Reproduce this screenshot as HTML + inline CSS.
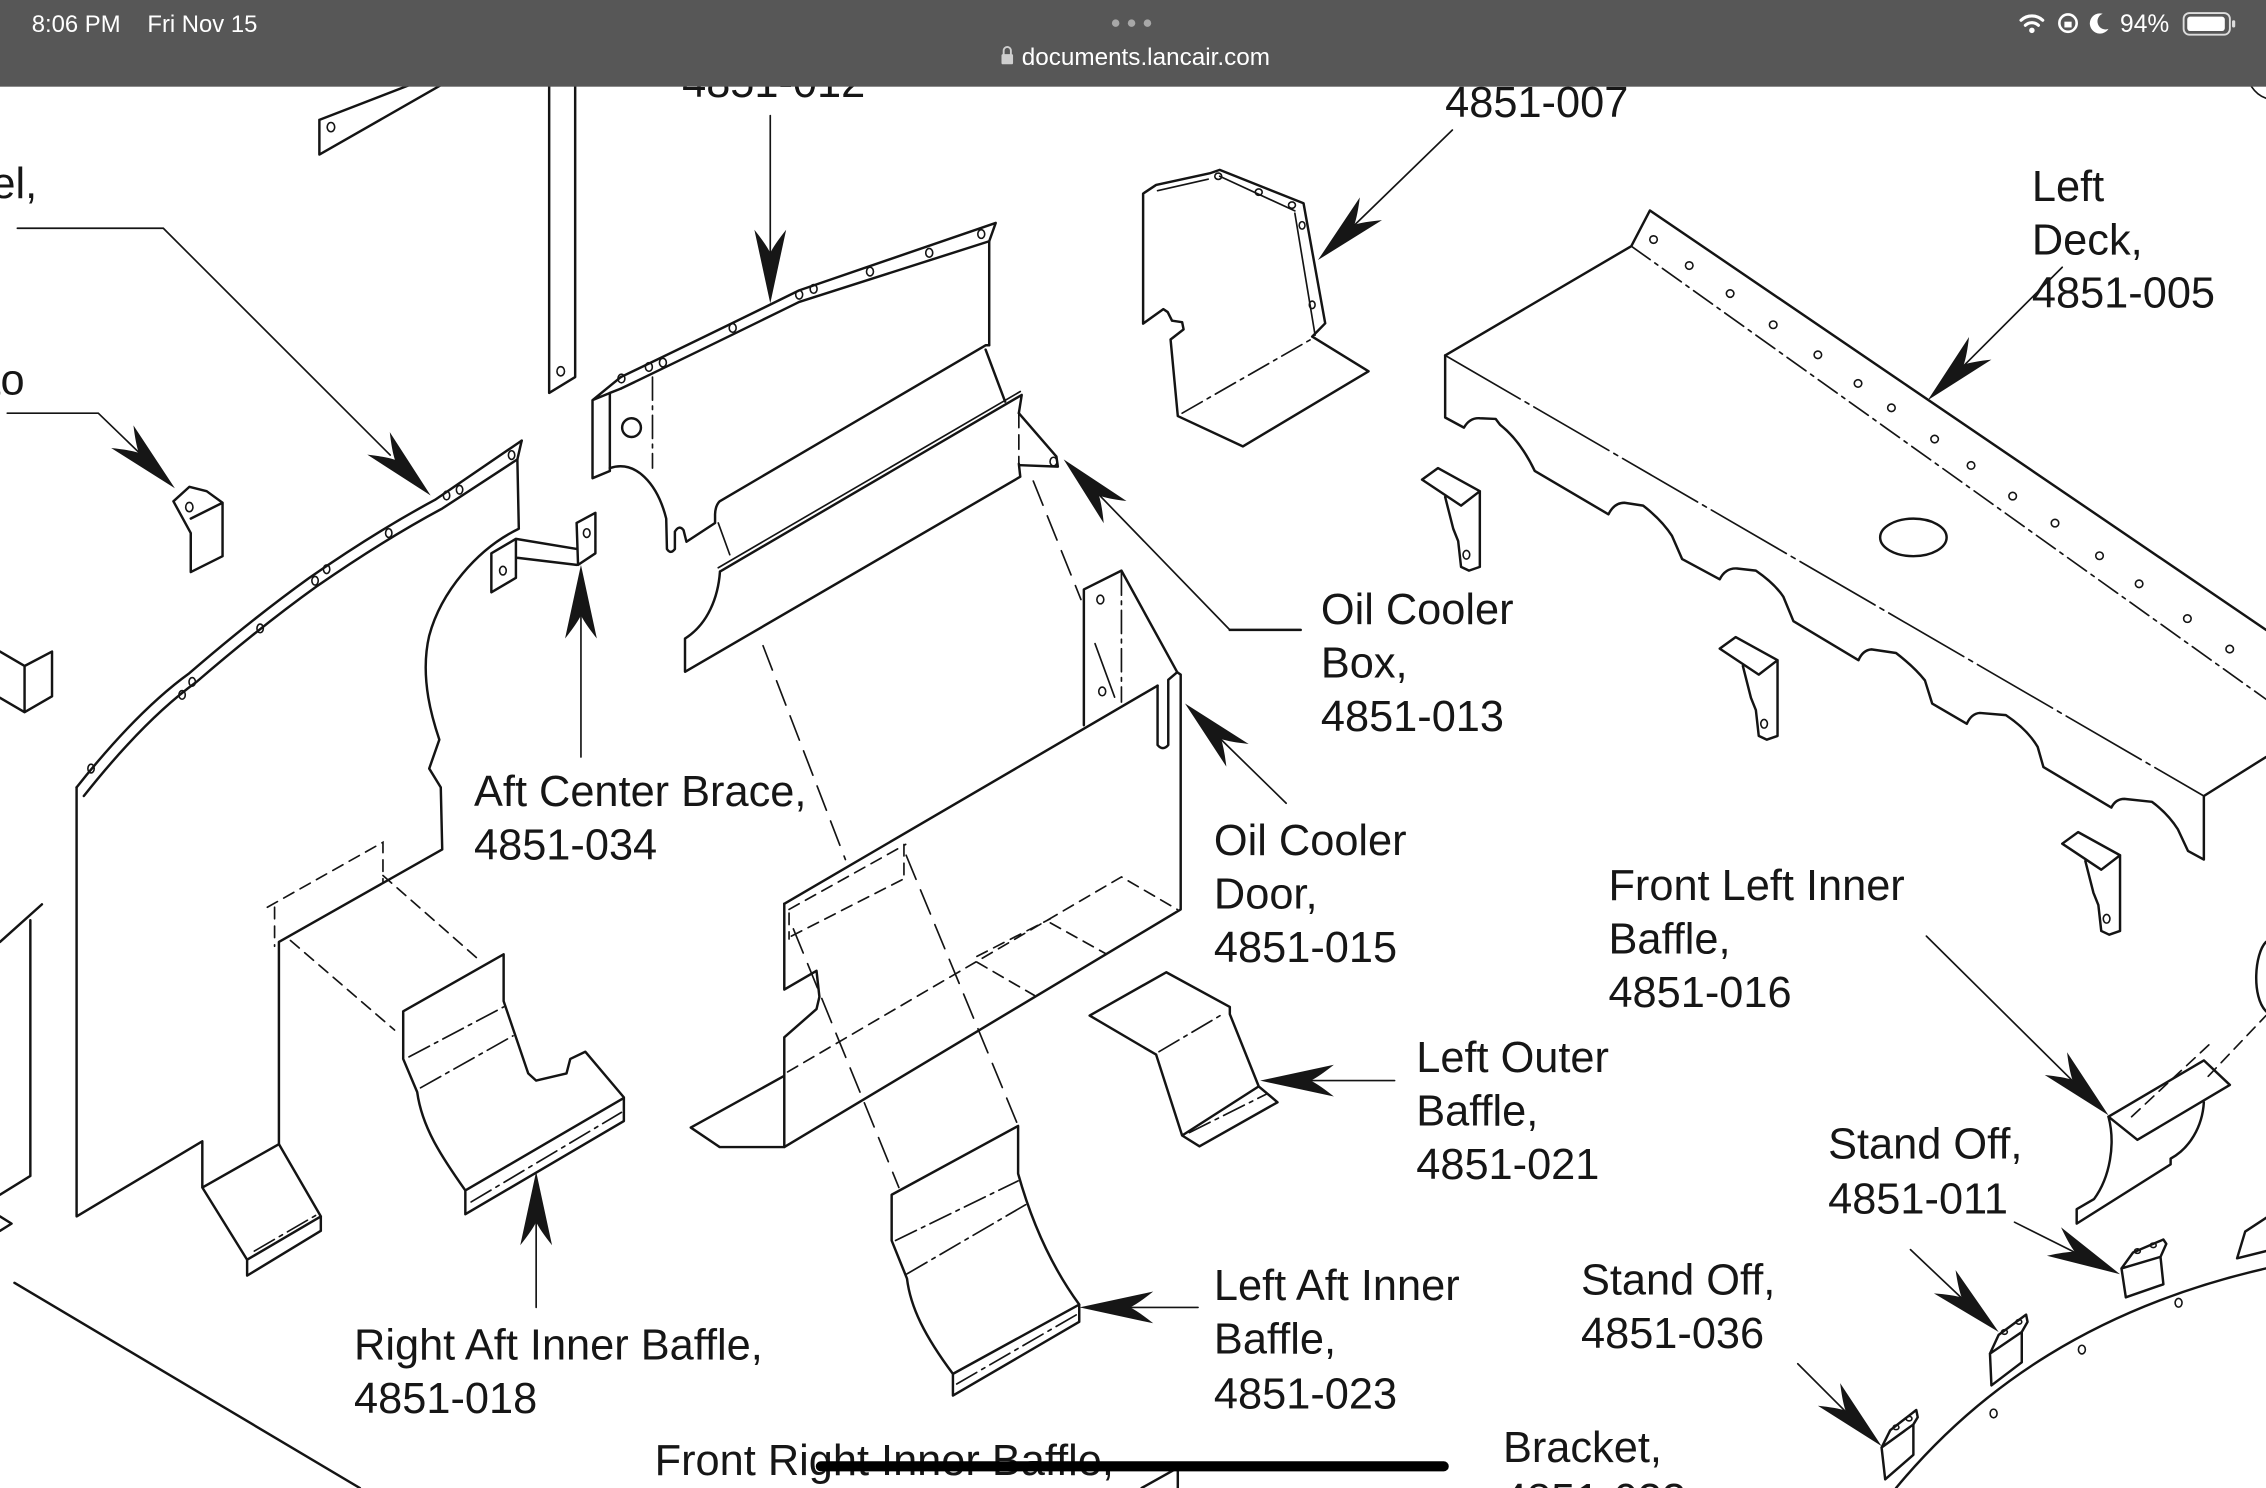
<!DOCTYPE html>
<html><head><meta charset="utf-8"><style>
html,body{margin:0;padding:0;background:#fff;}
svg{display:block;}
.s{fill:none;stroke:#141414;stroke-width:1.7;stroke-linejoin:round;stroke-linecap:round}
.t{fill:none;stroke:#141414;stroke-width:1.15;stroke-linecap:round}
.dd{stroke-dasharray:16 4 2.5 4}
.d{stroke-dasharray:8 5}
.dl{stroke-dasharray:18 8}
.h{fill:none;stroke:#141414;stroke-width:1.1}
.a{fill:#161616;stroke:none}
.lb{font-family:"Liberation Sans",Arial,sans-serif;font-size:30px;fill:#161616}
.sb{font-family:"Liberation Sans",Arial,sans-serif;fill:#fff}
</style></head><body>
<svg width="2266" height="1488" viewBox="0 0 1568 1030" preserveAspectRatio="none" xmlns="http://www.w3.org/2000/svg">
<rect x="0" y="0" width="1568" height="1030" fill="#fff"/>

<!-- top-left strip -->
<path class="s" d="M221,83 L221,107 L305,59 M221,83 L283,59"/>
<ellipse class="h" cx="229" cy="88" rx="2.6" ry="3.2"/>
<!-- vertical strip -->
<path class="s" d="M380,55 L380,272 L398,261 L398,55"/>
<ellipse class="h" cx="388" cy="257" rx="2.6" ry="3.2"/>

<!-- Part D fragment -->
<path class="s" d="M0,451 L17,461 L36,451 L36,482 L17,493 L0,483 M17,461 L17,493"/>
<!-- left edge fragment -->
<path class="s" d="M0,652 L29,626 M21,637 L21,814 L0,827 M0,842 L8,847 L0,852"/>
<path class="s" d="M10,888 L249,1030"/>

<!-- Part C bracket -->
<path class="s" d="M120,347 L131,337 L143,340 L154,348 L154,385 L132,396 L132,369 Z M132,359 L154,348"/>
<ellipse class="h" cx="131" cy="351" rx="2.5" ry="3.2"/>

<!-- Part A big panel -->
<path class="s" d="M53,545 Q95,492 131,466 Q175,428 214,400 Q260,368 301,346 L361,305"/>
<path class="s" d="M58,551 Q100,498 136,472 Q180,434 219,406 Q265,374 306,352 L358,318"/>
<path class="s" d="M361,305 L358,318 L359,366 C330,380 305,410 297,440 C290,470 300,500 304,512 L297,532 L305,545 L306,588 L193,652 L193,792"/>
<path class="s" d="M53,545 L53,842 L140,790 L140,822 L171,872 L171,883 L222,852 L222,842 L193,792 L140,822 M171,872 L222,842"/>
<path class="t dd" d="M176,866 L219,841"/>
<g class="h"><ellipse cx="354" cy="315" rx="2.2" ry="3"/><ellipse cx="309" cy="343" rx="2.2" ry="3"/><ellipse cx="318" cy="339" rx="2.2" ry="3"/><ellipse cx="269" cy="369" rx="2.2" ry="3"/><ellipse cx="226" cy="394" rx="2.2" ry="3"/><ellipse cx="218" cy="402" rx="2.2" ry="3"/><ellipse cx="180" cy="435" rx="2.2" ry="3"/><ellipse cx="133" cy="472" rx="2.2" ry="3"/><ellipse cx="126" cy="481" rx="2.2" ry="3"/><ellipse cx="63" cy="532" rx="2.2" ry="3"/></g>
<!-- dashed projection near Part A -->
<path class="t d" d="M185,628 L265,583 L265,611 M190,628 L190,655 M265,606 L331,664 M201,651 L273,713"/>

<!-- Part B right aft inner baffle -->
<path class="s" d="M279,700 L348.5,660.6 L348.5,693 L365.5,743 L371,748 L392,743 L394.6,733 L405,728 L431.7,759.6 L431.7,776 L322,840.5 L322,824 C305,800 292,780 288.7,756 L279,733 Z M322,824 L431.7,760"/>
<path class="t dd" d="M283,731.6 L348.5,697 M291,753 L355,717 M326,832 L430,770"/>

<!-- Aft center brace bracket -->
<path class="s" d="M340,383 L357,373 L357,400 L340,410 Z M357,373 L399,380 M357,386 L399,391 M399,362 L412,355 L412,383 L400,391 L399,362"/>
<ellipse class="h" cx="348" cy="395" rx="2.3" ry="3"/><ellipse class="h" cx="406" cy="369" rx="2.3" ry="3"/>

<!-- Part F top panel 4851-012 -->
<path class="s" d="M429.6,261 Q490,232 553,201 L689,154.3 L684.5,167 L684.5,239"/>
<path class="s" d="M429.6,269 Q490,240 553,209 L684.5,167"/>
<path class="s" d="M410,277 L422,272 L422,326 L410,331 Z M410,277 L429.6,261 M422,272 L429.6,269"/>
<path class="s" d="M422,324 C440,318 455,335 461,359 L461.5,380 Q464,384 467,380 L467,368 Q470,363 473,367 L475,375 L494.8,362 L494.8,356 Q495,350 498,347 L682,239 L684.5,239"/>
<path class="t dd" d="M451.5,261 L451.5,324"/>
<circle class="s" cx="437" cy="296" r="6.5"/>
<g class="h"><ellipse cx="430" cy="262" rx="2.4" ry="3"/><ellipse cx="449" cy="254" rx="2.4" ry="3"/><ellipse cx="458.7" cy="251" rx="2.4" ry="3"/><ellipse cx="507" cy="227" rx="2.4" ry="3"/><ellipse cx="553" cy="204" rx="2.4" ry="3"/><ellipse cx="563" cy="200" rx="2.4" ry="3"/><ellipse cx="602" cy="188" rx="2.4" ry="3"/><ellipse cx="643" cy="175" rx="2.4" ry="3"/><ellipse cx="679" cy="162" rx="2.4" ry="3"/></g>

<!-- Part G ledge -->
<path class="t" d="M497,393 L706,271"/>
<path class="s" d="M498.2,395.6 L707,273.4 L705,286 M498.2,395.6 C497,413 490,432 474,442 L474,465 L706,330 L705,321"/>
<path class="t" style="stroke-dasharray:10 5" d="M705,286 L705,321"/>
<path class="s" d="M682,242 L695.5,278 M705,286 L731,316 L732,323 L706,322"/>
<ellipse class="h" cx="729" cy="319.5" rx="2.4" ry="3"/>
<path class="t" d="M497,362 L505,384"/>

<!-- projection lines -->
<path class="t dl" d="M715,333 L748,415 M528,447 L585,595"/>
<path class="t dl" d="M549,643 L622,822 M627,592 L704,778"/>

<!-- Oil cooler door / box -->
<path class="s" d="M542.7,625.6 L801,474.6"/>
<path class="s" d="M542.7,625.6 L542.7,685 L565,672 L567,690 L565,698.5 L542.7,718 L542.7,794"/>
<path class="s" d="M478,780.5 L542.7,744.7 M478,780.5 L498,794 L542.7,794 L817,629.5 L817,467 L814.6,465.3 L776,395 L750,408 L750,502"/>
<path class="s" d="M801,474.6 L801,515.7 Q804.6,520 808.4,515.7 L808.4,470.6 L814.6,465.3"/>
<path class="t dd" d="M776,396 L776,486"/>
<path class="t" d="M757.7,445.5 L771.3,482.6"/>
<ellipse class="h" cx="761.4" cy="415" rx="2.4" ry="3"/><ellipse class="h" cx="762.7" cy="478.6" rx="2.4" ry="3"/>
<path class="t d" d="M546,629.5 L626.7,584.5 M547.6,648 L628,607 M625.5,584.5 L625.5,608 M545,742 L776,607 L814.6,629.5 M676,666 L715.7,689 M726.8,638.8 L764.9,660 M676,662 L726.8,636 M546,632 L546,650"/>

<!-- Left outer baffle -->
<path class="s" d="M754,703 L807,673 L851,697 L851,702 L871,752 L884,763 L830,793.5 L818,786 L800,730 L754,703 Z M818,786 L871,752"/>
<path class="t dd" d="M823,784 L877,757 M802,728 L846,702"/>

<!-- Left aft inner baffle -->
<path class="s" d="M617,827 L704.5,779.4 L704.5,812.4 C715,850 730,880 746.8,903 L746.8,915 L659.4,966 L659.4,951 C640,925 630,905 627.6,885 L617,858.7 Z M659.4,951 L746.8,903"/>
<path class="t dd" d="M619.7,858.7 L704.5,817.4 M627.6,881.8 L709.7,833.9 M662,958 L745,910"/>

<!-- small part near bottom -->
<path class="s" d="M790,1030 L815,1016 L815,1030"/>

<!-- 4851-007 part -->
<path class="s" d="M791,134 L800,128 L837,120 L844,117.6 L902,140.7 L917,223.8 L908,233 L947,257 L860,309 L815,288 L810,235 L819,228 L818,223 L811,222 L808,216 L805,214 L791,224 Z"/>
<path class="t" d="M896,147.6 L910,232 M801,132 L836,124 M844,122 L896,146"/>
<path class="t dd" d="M818,286 L907,235"/>
<g class="h"><ellipse cx="843" cy="122" rx="2.4" ry="2.2"/><ellipse cx="871" cy="133" rx="2.4" ry="2.2"/><ellipse cx="894" cy="142" rx="2.4" ry="2.2"/><ellipse cx="901" cy="156" rx="2" ry="2.6"/><ellipse cx="908" cy="211" rx="2" ry="2.6"/></g>

<!-- Left deck -->
<path class="s" d="M1000,246 L1128.8,170.4 L1141.7,145.7 L1568,436"/>
<path class="t dd" d="M1128.8,170.4 L1568,484"/>
<path class="t dd" style="stroke-dasharray:60 4 3 4" d="M1000,246 L1525,551"/>
<path class="s" d="M1000,246 L1000,289 L1013,296 Q1017,289 1024,289.5 L1035,290 L1038,294 Q1052,305 1062,326 L1113,356 Q1117,348 1124,348 L1137,350 Q1150,360 1157,371 L1164,387 L1190,401 Q1194,393 1202,393.5 L1215,395 Q1228,404 1234,413 L1241,430 L1286,457 Q1289,450 1295,449.5 L1312,452 Q1325,462 1332,471 L1337,487 L1361,501 Q1364,494 1370,493.5 L1388,495 Q1403,505 1410,517 L1414,531 L1461,559 Q1464,553 1470,553 L1489,555 Q1500,563 1507,574 L1514,589 L1525,595 L1525,551 L1568,524"/>
<ellipse class="s" cx="1324" cy="372" rx="23" ry="13"/>
<g class="h"><circle cx="1144.2" cy="165.8" r="2.6"/><circle cx="1168.9" cy="183.8" r="2.6"/><circle cx="1197.2" cy="203.2" r="2.6"/><circle cx="1227" cy="224.8" r="2.6"/><circle cx="1257.9" cy="245.6" r="2.6"/><circle cx="1285.7" cy="265.4" r="2.6"/><circle cx="1308.8" cy="282.3" r="2.6"/><circle cx="1338.7" cy="303.9" r="2.6"/><circle cx="1363.9" cy="322.2" r="2.6"/><circle cx="1392.7" cy="343.4" r="2.6"/><circle cx="1422" cy="362.1" r="2.6"/><circle cx="1452.8" cy="384.7" r="2.6"/><circle cx="1480.2" cy="404.1" r="2.6"/><circle cx="1513.6" cy="428.2" r="2.6"/><circle cx="1542.9" cy="449.3" r="2.6"/></g>
<path class="t" d="M1558,60 Q1562,66 1568,68"/>

<!-- deck brackets -->
<g>
<path class="s" d="M984,332 L995,324 L1024,340 L1011,350 Z M1000,344 L1005.6,366 L1009,374.5 L1011,392.4 L1016.5,395 L1024,392.4 L1024,340"/>
<ellipse class="h" cx="1014.7" cy="384" rx="2.3" ry="3"/>
</g>
<g transform="translate(206,117)">
<path class="s" d="M984,332 L995,324 L1024,340 L1011,350 Z M1000,344 L1005.6,366 L1009,374.5 L1011,392.4 L1016.5,395 L1024,392.4 L1024,340"/>
<ellipse class="h" cx="1014.7" cy="384" rx="2.3" ry="3"/>
</g>
<g transform="translate(443,252)">
<path class="s" d="M984,332 L995,324 L1024,340 L1011,350 Z M1000,344 L1005.6,366 L1009,374.5 L1011,392.4 L1016.5,395 L1024,392.4 L1024,340"/>
<ellipse class="h" cx="1014.7" cy="384" rx="2.3" ry="3"/>
</g>

<!-- Front left inner baffle -->
<path class="s" d="M1459,773 L1525,734 L1543,751 L1479,789 Z"/>
<path class="s" d="M1459,773 C1464,792 1460,815 1449,830 L1437,837 L1437,847 L1502,806 L1502,802 C1515,795 1524,780 1525,763"/>
<path class="t d" d="M1475,773 L1532,720 M1528,745 L1568,703"/>
<path class="s" d="M1568,652 C1560,660 1558,690 1568,700"/>
<!-- arc and stand offs -->
<path class="s" d="M1312,1030 C1370,960 1450,905 1568,878"/>
<g class="h"><ellipse cx="1507.5" cy="901.8" rx="2.4" ry="3"/><ellipse cx="1440.6" cy="934.2" rx="2.4" ry="3"/><ellipse cx="1379.5" cy="978.4" rx="2.4" ry="3"/></g>
<path class="s" d="M1468,878 L1476,867 L1497,858 L1499,861 L1495,870 L1497,889 L1471,898 Z M1468,878 L1495,870"/>
<path class="s" d="M1377,937 L1383,924 L1402,910 L1403,915 L1399,922 L1399,943 L1378,959 Z M1377,937 L1399,922"/>
<path class="s" d="M1302,1002 L1308,990 L1326,976 L1327,981 L1324,986 L1324,1007 L1304.5,1024 Z M1302,1002 L1324,986"/>
<g class="h"><ellipse cx="1479" cy="866" rx="2" ry="1.6"/><ellipse cx="1490" cy="862" rx="2" ry="1.6"/><ellipse cx="1387" cy="922" rx="2" ry="1.6"/><ellipse cx="1397" cy="915" rx="2" ry="1.6"/><ellipse cx="1312" cy="988" rx="2" ry="1.6"/><ellipse cx="1321" cy="982" rx="2" ry="1.6"/></g>
<path class="s" d="M1548,871 L1553.6,852.5 L1568,843 M1548,871 L1568,866"/>

<!-- leader lines -->
<path class="t" d="M533,80 L533,178"/>
<path class="t" d="M1005,90 L935,158"/>
<path class="t" d="M12,158 L113,158 L270,315"/>
<path class="t" d="M5,286 L68,286 L98,315"/>
<path class="t" d="M402,420 L402,524"/>
<path class="t" d="M1427,185 L1358,254"/>
<path class="t" style="stroke-width:1.8" d="M851,436 L900,436"/>
<path class="t" d="M851,436 L760,342"/>
<path class="t" d="M890,556 L843,510"/>
<path class="t" d="M1333,648 L1435,749"/>
<path class="t" d="M965,748 L905,748"/>
<path class="t" d="M1394,846 L1438,868"/>
<path class="t" d="M1322,865 L1360,901"/>
<path class="t" d="M1244,944 L1279,979"/>
<path class="t" d="M829,905 L780,905"/>
<path class="t" d="M371,905 L371,845"/>

<!-- arrowheads -->
<g class="a">
<path d="M0,0 L-51,-11 Q-41,-3 -35,0 Q-41,3 -51,11 Z" transform="translate(533,210) rotate(90)"/>
<path d="M0,0 L-51,-11 Q-41,-3 -35,0 Q-41,3 -51,11 Z" transform="translate(912,180) rotate(135.9)"/>
<path d="M0,0 L-51,-11 Q-41,-3 -35,0 Q-41,3 -51,11 Z" transform="translate(298,343) rotate(45)"/>
<path d="M0,0 L-51,-11 Q-41,-3 -35,0 Q-41,3 -51,11 Z" transform="translate(121,338) rotate(44.5)"/>
<path d="M0,0 L-51,-11 Q-41,-3 -35,0 Q-41,3 -51,11 Z" transform="translate(402,391) rotate(-90)"/>
<path d="M0,0 L-51,-11 Q-41,-3 -35,0 Q-41,3 -51,11 Z" transform="translate(1334,277) rotate(135.3)"/>
<path d="M0,0 L-51,-11 Q-41,-3 -35,0 Q-41,3 -51,11 Z" transform="translate(736,318) rotate(-134.3)"/>
<path d="M0,0 L-51,-11 Q-41,-3 -35,0 Q-41,3 -51,11 Z" transform="translate(820,487) rotate(-135.4)"/>
<path d="M0,0 L-51,-11 Q-41,-3 -35,0 Q-41,3 -51,11 Z" transform="translate(1459,772) rotate(44.5)"/>
<path d="M0,0 L-51,-11 Q-41,-3 -35,0 Q-41,3 -51,11 Z" transform="translate(872,748) rotate(180)"/>
<path d="M0,0 L-51,-11 Q-41,-3 -35,0 Q-41,3 -51,11 Z" transform="translate(1467,882) rotate(26.3)"/>
<path d="M0,0 L-51,-11 Q-41,-3 -35,0 Q-41,3 -51,11 Z" transform="translate(1383,922) rotate(43)"/>
<path d="M0,0 L-51,-11 Q-41,-3 -35,0 Q-41,3 -51,11 Z" transform="translate(1302,1001) rotate(44.5)"/>
<path d="M0,0 L-51,-11 Q-41,-3 -35,0 Q-41,3 -51,11 Z" transform="translate(747,905) rotate(180)"/>
<path d="M0,0 L-51,-11 Q-41,-3 -35,0 Q-41,3 -51,11 Z" transform="translate(371,811) rotate(-90)"/>
</g>

<!-- labels -->
<g class="lb">
<text x="472" y="67">4851-012</text>
<text x="1000" y="81">4851-007</text>
<text x="-6" y="137">el,</text>
<text x="-8" y="273">to</text>
<text x="1406" y="139">Left</text>
<text x="1406" y="176">Deck,</text>
<text x="1406" y="213">4851-005</text>
<text x="914" y="432">Oil Cooler</text>
<text x="914" y="469">Box,</text>
<text x="914" y="506">4851-013</text>
<text x="328" y="558">Aft Center Brace,</text>
<text x="328" y="595">4851-034</text>
<text x="840" y="592">Oil Cooler</text>
<text x="840" y="629">Door,</text>
<text x="840" y="666">4851-015</text>
<text x="1113" y="623">Front Left Inner</text>
<text x="1113" y="660">Baffle,</text>
<text x="1113" y="697">4851-016</text>
<text x="980" y="742">Left Outer</text>
<text x="980" y="779">Baffle,</text>
<text x="980" y="816">4851-021</text>
<text x="1265" y="802">Stand Off,</text>
<text x="1265" y="840">4851-011</text>
<text x="1094" y="896">Stand Off,</text>
<text x="1094" y="933">4851-036</text>
<text x="840" y="900">Left Aft Inner</text>
<text x="840" y="937">Baffle,</text>
<text x="840" y="975">4851-023</text>
<text x="245" y="941">Right Aft Inner Baffle,</text>
<text x="245" y="978">4851-018</text>
<text x="453" y="1021">Front Right Inner Baffle,</text>
<text x="1040" y="1012">Bracket,</text>
<text x="1040" y="1048">4851-033</text>
</g>

<!-- home indicator -->
<line x1="568" y1="1015" x2="999" y2="1015" stroke="#000" stroke-width="7" stroke-linecap="round"/>

<!-- status bar -->
<rect x="0" y="0" width="1568" height="60" fill="#575757"/>
<text class="sb" x="22" y="22" font-size="16.5">8:06 PM</text>
<text class="sb" x="102" y="22" font-size="16.5">Fri Nov 15</text>
<g fill="#a8a8a8"><circle cx="772" cy="16" r="2.6"/><circle cx="783" cy="16" r="2.6"/><circle cx="794" cy="16" r="2.6"/></g>
<g fill="#cfcfcf"><rect x="693" y="37.5" width="8" height="7" rx="1"/><path d="M694.5,38 L694.5,35 A2.5,2.5 0 0 1 699.5,35 L699.5,38" fill="none" stroke="#cfcfcf" stroke-width="1.3"/></g>
<text class="sb" x="707" y="45" font-size="16.8" fill="#f0f0f0">documents.lancair.com</text>
<g fill="none" stroke="#fff" stroke-linecap="round">
<path d="M1398.5,14 A11,11 0 0 1 1413.5,14" stroke-width="2.2"/>
<path d="M1401.5,17.5 A6.5,6.5 0 0 1 1410.5,17.5" stroke-width="2.2"/>
<circle cx="1431" cy="16" r="6" stroke-width="1.8"/>
</g>
<circle cx="1406" cy="21" r="1.9" fill="#fff"/>
<rect x="1428.5" y="15" width="5" height="4" fill="#fff"/>
<path d="M1455,9.5 A7,7 0 1 0 1459,20 A5.5,5.5 0 0 1 1455,9.5 Z" fill="#fff"/>
<text class="sb" x="1467" y="22" font-size="17">94%</text>
<rect x="1511" y="9" width="32" height="15" rx="4" fill="none" stroke="#ddd" stroke-width="1.3"/>
<rect x="1513.5" y="11.5" width="26" height="10" rx="2" fill="#fff"/>
<rect x="1544.5" y="14" width="2.2" height="5" rx="1" fill="#ddd"/>
</svg>
</body></html>
